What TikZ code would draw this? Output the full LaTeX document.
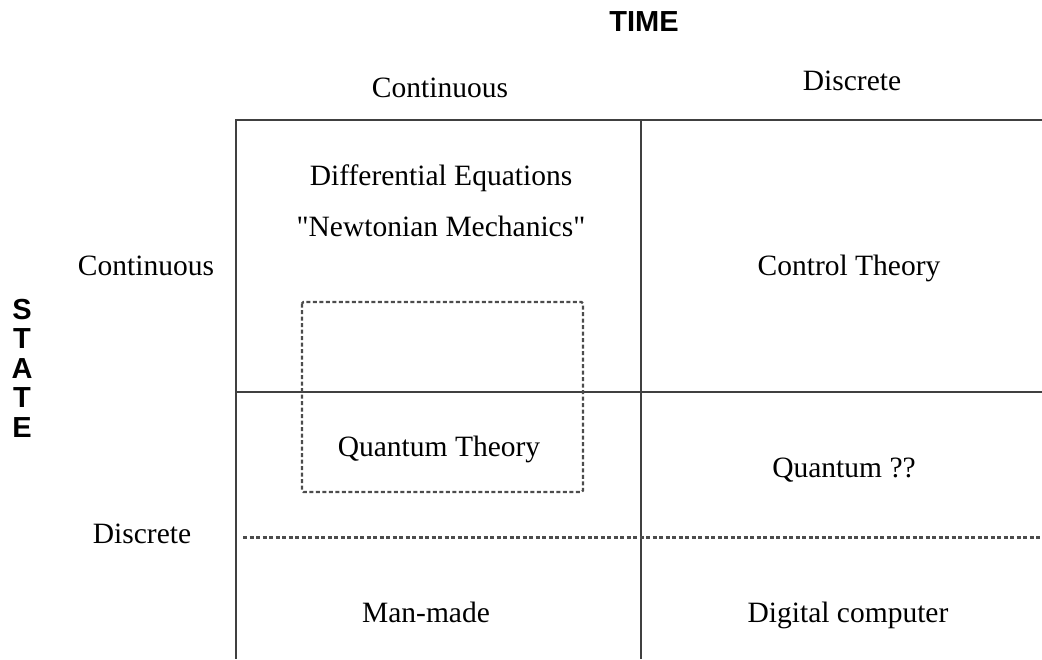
\documentclass[tikz,border=0pt]{standalone}
\usepackage{fontspec}
\setmainfont{Liberation Serif}[Ligatures=TeXOff]
\setsansfont{Liberation Sans}
\usetikzlibrary{positioning}

\begin{document}
\begin{tikzpicture}[x=1pt, y=-1pt,
  cell/.style={font=\fontsize{29.5}{34}\selectfont, anchor=base, inner sep=0pt},
  axis/.style={font=\fontsize{29}{29.5}\selectfont\sffamily\bfseries, align=center, inner sep=0pt},
  grid/.style={line width=1.6pt, draw=black!75},
  sepline/.style={line width=3pt, draw=black!70, dash pattern=on 4pt off 2.5pt},
  zone/.style={line width=2.2pt, draw=black!70, dash pattern=on 4pt off 2.5pt, rounded corners=1.5pt},
]
\useasboundingbox (0,0) rectangle (1042,659);

% === Axis titles ===
\node[axis] (time) at (644,21.5) {TIME};
\node[axis] (state) at (22,368) {S\\T\\A\\T\\E};

% === Frame ===
\coordinate (nw) at (236,120);
\coordinate (n) at (641,120);
\coordinate (ne) at (1042,120);
\coordinate (w) at (236,392);
\coordinate (e) at (1042,392);
\coordinate (sw) at (236,659);
\coordinate (s) at (641,659);
\coordinate (dw) at (243,537);
\coordinate (de) at (1042,537);

\draw[grid] (ne) -- (nw) -- (sw);
\draw[grid] (n) -- (s);
\draw[grid] (w) -- (e);
\draw[sepline] (dw) -- (de);

% === Quantum region ===
\draw[zone] (302,302) rectangle (583,492);

% === Column and row heads ===
\node[cell] (tcont) at (440,97) {Continuous};
\node[cell] (tdisc) at (852,90) {Discrete};
\node[cell] (scont) at (146,275) {Continuous};
\node[cell] (sdisc) at (142,543) {Discrete};

% === Cells ===
\node[cell] (diffeq) at (441,185) {Differential Equations};
\node[cell] (newton) at (441,236) {"Newtonian Mechanics"};
\node[cell] (ctrl) at (849,275) {Control Theory};
\node[cell] (qtheory) at (439,456) {Quantum Theory};
\node[cell] (qmark) at (844,477) {Quantum ??};
\node[cell] (manmade) at (426,622) {Man-made};
\node[cell] (digital) at (848,622) {Digital computer};

\end{tikzpicture}
\end{document}
